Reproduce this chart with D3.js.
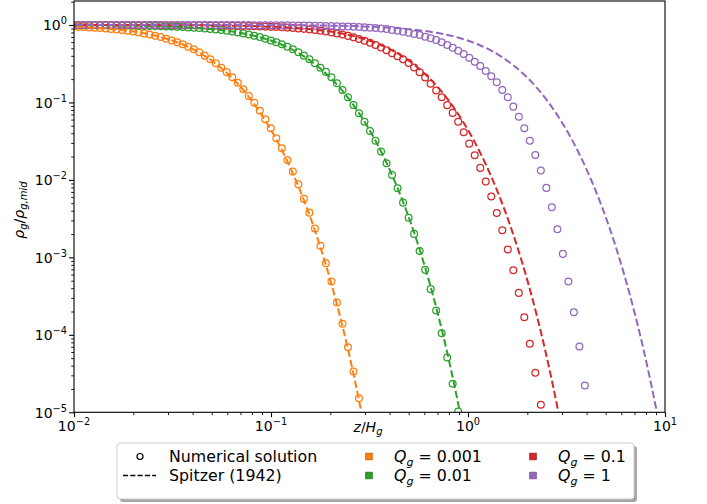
<!DOCTYPE html>
<html><head><meta charset="utf-8">
<script src="https://cdn.jsdelivr.net/npm/d3@7"></script>
<style>
body{margin:0;background:#fff;}
svg{display:block;font-family:"DejaVu Sans",sans-serif;}
</style></head><body>
<svg id="chart" width="707" height="504"></svg>
<script>
// ---------------- data ----------------
const zGrid = [0.00983,0.01048,0.01118,0.01192,0.01272,0.01356,0.01446,0.01543,0.01645,0.01755,
 0.01871,0.01996,0.02128,0.02270,0.02421,0.02582,0.02754,0.02937,0.03132,0.03340,
 0.03563,0.03799,0.04052,0.04321,0.04609,0.04915,0.05242,0.05591,0.05962,0.06359,
 0.06782,0.07233,0.07714,0.08227,0.08774,0.09358,0.09980,0.1064,0.1135,0.1211,
 0.1291,0.1377,0.1469,0.1566,0.1671,0.1782,0.1900,0.2027,0.2161,0.2305,
 0.2459,0.2622,0.2797,0.2983,0.3181,0.3393,0.3618,0.3859,0.4116,0.4389,
 0.4681,0.4995,0.5328,0.5682,0.6060,0.6463,0.6893,0.7351,0.7840,0.8362,
 0.8918,0.9511,1.0144,1.0818,1.1538,1.2305,1.3124,1.3997,1.4928,1.5920,
 1.6979,1.8109,1.9313,2.0598,2.1968,2.3429,2.4987,2.6649,2.8421,3.0311,
 3.2327,3.4478,3.6771,3.9216];

const rhoQ0001 = [0.953,0.946,0.940,0.931,0.923,0.912,0.902,0.889,0.875,0.859,
 0.841,0.822,0.802,0.779,0.755,0.728,0.698,0.665,0.631,0.597,
 0.564,0.525,0.485,0.445,0.402,0.361,0.321,0.281,0.245,0.211,
 0.180,0.148,0.121,0.0993,0.0783,0.0607,0.0465,0.0345,0.0256,0.0181,
 0.0128,0.00881,0.00569,0.00378,0.00236,0.00141,8.41e-4,4.88e-4,2.61e-4,1.39e-4,
 6.93e-5,3.36e-5,1.52e-5];

const rhoQ001 = [0.995,0.995,0.994,0.993,0.992,0.991,0.990,0.988,0.987,0.985,
 0.982,0.980,0.977,0.974,0.971,0.967,0.962,0.957,0.953,0.946,
 0.940,0.931,0.923,0.912,0.902,0.889,0.875,0.859,0.841,0.822,
 0.802,0.779,0.755,0.728,0.698,0.665,0.631,0.597,0.564,0.525,
 0.485,0.445,0.402,0.361,0.321,0.281,0.248,0.211,0.177,0.145,
 0.117,0.0929,0.0726,0.0565,0.0429,0.0321,0.0232,0.0164,0.0116,0.00782,
 0.00509,0.00324,0.00201,0.00121,6.90e-4,3.89e-4,2.06e-4,1.05e-4,5.09e-5,2.33e-5,
 1.02e-5];

const rhoQ01 = [0.9995,0.9994,0.9993,0.9992,0.9991,0.9990,0.9988,0.9987,0.9985,0.9983,
 0.9981,0.9978,0.9975,0.9972,0.9968,0.9963,0.9958,0.9952,0.9946,0.9938,
 0.9930,0.9921,0.9910,0.9897,0.9883,0.9867,0.9849,0.9829,0.9806,0.9779,
 0.9749,0.9715,0.968,0.963,0.958,0.953,0.946,0.940,0.933,0.925,
 0.914,0.904,0.891,0.877,0.861,0.843,0.824,0.802,0.778,0.752,
 0.723,0.692,0.659,0.625,0.590,0.552,0.513,0.473,0.431,0.395,
 0.360,0.324,0.282,0.246,0.210,0.174,0.143,0.117,0.0923,0.0733,
 0.0565,0.0412,0.0294,0.0208,0.0143,0.00951,0.00610,0.00375,0.00224,0.00126,
 6.84e-4,3.48e-4,1.69e-4,7.66e-5,3.24e-5,1.25e-5];

const rhoQ1 = [1.000,1.000,1.000,1.000,1.000,1.000,0.9999,0.9999,0.9998,0.9998,
 0.9997,0.9997,0.9996,0.9996,0.9995,0.9995,0.9994,0.9993,0.9992,0.9991,
 0.9990,0.9988,0.9987,0.9985,0.9983,0.9981,0.9978,0.9975,0.9971,0.9968,
 0.9963,0.9958,0.9952,0.9946,0.9938,0.9930,0.9920,0.9909,0.9897,0.9883,
 0.9867,0.9849,0.9828,0.9805,0.9778,0.9748,0.9714,0.9675,0.9631,0.9582,
 0.9526,0.9463,0.9391,0.9311,0.9219,0.9117,0.9001,0.888,0.862,0.844,
 0.819,0.796,0.766,0.743,0.706,0.673,0.640,0.598,0.552,0.509,
 0.466,0.423,0.378,0.336,0.296,0.255,0.218,0.182,0.145,0.117,
 0.0883,0.0653,0.0465,0.0321,0.0210,0.0132,0.00789,0.00445,0.00231,0.00111,
 4.88e-4,1.96e-4,7.06e-5,2.22e-5];

// Spitzer (1942) dashed profiles
const spitzerRho = [1.000,0.9975,0.9901,0.9610,0.9151,0.8556,0.7864,0.7116,0.6347,0.5591,
 0.4869,0.4200,0.3050,0.2161,0.1505,0.1036,0.07065,0.03238,0.01468,0.006624,
 0.002982,0.001341,4.935e-4,1.816e-4,6.68e-5,2.458e-5,9.04e-6,3.326e-6];
const spitzerZQ0001 = [0.000223,0.00223,0.00446,0.00892,0.01338,0.01784,0.0223,0.02676,0.03122,0.03568,
 0.04014,0.0446,0.05352,0.06244,0.07136,0.08028,0.0892,0.10704,0.12488,0.14272,
 0.16056,0.1784,0.2007,0.223,0.2453,0.2676,0.2899,0.3122];
const spitzerZQ001 = [0.000705,0.00705,0.0141,0.0282,0.0423,0.0564,0.0705,0.0846,0.0987,0.1128,
 0.1269,0.141,0.1692,0.1974,0.2256,0.2538,0.282,0.3384,0.3948,0.4512,
 0.5076,0.564,0.6345,0.705,0.7755,0.846,0.9165,0.987];
const spitzerZQ01 = [0.00223,0.0223,0.0446,0.0892,0.1338,0.1784,0.223,0.2676,0.3122,0.3568,
 0.4014,0.446,0.5352,0.6244,0.7136,0.8028,0.892,1.0704,1.2488,1.4272,
 1.6056,1.784,2.007,2.23,2.453,2.676,2.899,3.122];
const spitzerZQ1 = [0.00705,0.0705,0.141,0.282,0.423,0.564,0.705,0.846,0.987,1.128,
 1.269,1.41,1.692,1.974,2.256,2.538,2.82,3.384,3.948,4.512,
 5.076,5.64,6.345,7.05,7.755,8.46,9.165,9.87];

const seriesNames = ["0.001","0.01","0.1","1"];
const seriesColors = ["#ff7f0e","#2ca02c","#d62728","#9467bd"];
const numericalRho = [rhoQ0001, rhoQ001, rhoQ01, rhoQ1];
const spitzerZ = [spitzerZQ0001, spitzerZQ001, spitzerZQ01, spitzerZQ1];

const xTickValues = [0.01, 0.1, 1, 10];
const xTickExps = ["\u22122","\u22121","0","1"];
const yTickValues = [1e-5,1e-4,1e-3,1e-2,1e-1,1];
const yTickExps = ["\u22125","\u22124","\u22123","\u22122","\u22121","0"];

// ---------------- layout ----------------
const L = 74, R = 665, T = 1, B = 412.3;
const svg = d3.select("#chart");
const x = d3.scaleLog().domain([0.01, 10]).range([L, R]);
const y = d3.scaleLog().domain([1e-5, 2.04]).range([B, T]);

svg.append("defs").append("clipPath").attr("id","clip")
  .append("rect").attr("x",L).attr("y",T).attr("width",R-L).attr("height",B-T);

const plot = svg.append("g").attr("clip-path","url(#clip)");

const line = d3.line().x(d=>x(d[0])).y(d=>y(d[1])).curve(d3.curveMonotoneX);
seriesNames.forEach((nm,i)=>{
  const pts = numericalRho[i].map((r,k)=>[zGrid[k], r]);
  plot.append("g").selectAll("circle").data(pts).enter().append("circle")
    .attr("cx",d=>x(d[0])).attr("cy",d=>y(d[1])).attr("r",3.4)
    .attr("fill","none").attr("stroke",seriesColors[i]).attr("stroke-width",1.25);
});
seriesNames.forEach((nm,i)=>{
  const pts = spitzerZ[i].map((z,k)=>[z, spitzerRho[k]]);
  plot.append("path").datum(pts).attr("d",line)
    .attr("fill","none").attr("stroke",seriesColors[i]).attr("stroke-width",2)
    .attr("stroke-dasharray","7.4,3.2");
});

// ---------------- axes ----------------
function minorTicks(domainLo, domainHi){
  const out=[];
  for(let e=Math.round(Math.log10(domainLo)); e<Math.log10(domainHi); e++){
    for(let m=2;m<=9;m++){ const v=m*Math.pow(10,e); if(v>domainLo && v<domainHi) out.push(v); }
  }
  return out;
}
const axisStyle = g => { g.selectAll("line").attr("stroke","#000").attr("stroke-width",1.1); g.select(".domain").remove(); };

svg.append("g").attr("transform",`translate(0,${B})`)
  .call(d3.axisBottom(x).tickValues(xTickValues).tickSize(4.9).tickFormat(()=>"")).call(axisStyle);
svg.append("g").attr("transform",`translate(0,${B})`)
  .call(d3.axisBottom(x).tickValues(minorTicks(0.01,10)).tickSize(2.8).tickFormat(()=>"")).call(axisStyle)
  .selectAll("line").attr("stroke-width",0.9);
svg.append("g").attr("transform",`translate(${L},0)`)
  .call(d3.axisLeft(y).tickValues(yTickValues).tickSize(4.9).tickFormat(()=>"")).call(axisStyle);
svg.append("g").attr("transform",`translate(${L},0)`)
  .call(d3.axisLeft(y).tickValues(minorTicks(1e-5,2.04)).tickSize(2.8).tickFormat(()=>"")).call(axisStyle)
  .selectAll("line").attr("stroke-width",0.9);

// frame
svg.append("rect").attr("x",L).attr("y",T).attr("width",R-L).attr("height",B-T)
  .attr("fill","none").attr("stroke","#000").attr("stroke-width",1.1);

// tick labels
xTickValues.forEach((v,i)=>{
  const t = svg.append("text").attr("x",x(v)).attr("y",431).attr("text-anchor","middle")
    .attr("font-size",14).attr("fill","#000");
  t.append("tspan").text("10");
  t.append("tspan").attr("dy",-6).attr("font-size",9.8).text(xTickExps[i]);
});
yTickValues.forEach((v,i)=>{
  const t = svg.append("text").attr("x",67).attr("y",y(v)+5.5).attr("text-anchor","end")
    .attr("font-size",14).attr("fill","#000");
  t.append("tspan").text("10");
  t.append("tspan").attr("dy",-6).attr("font-size",9.8).text(yTickExps[i]);
});

// axis labels
const xl = svg.append("text").attr("x",368).attr("y",432).attr("text-anchor","middle").attr("font-size",14);
xl.append("tspan").attr("font-style","italic").text("z");
xl.append("tspan").text("/");
xl.append("tspan").attr("font-style","italic").text("H");
xl.append("tspan").attr("font-style","italic").attr("font-size",10).attr("dy",3).text("g");

const yl = svg.append("text").attr("transform","translate(24,210) rotate(-90)")
  .attr("text-anchor","middle").attr("font-size",14);
yl.append("tspan").attr("font-style","italic").text("\u03C1");
yl.append("tspan").attr("font-style","italic").attr("font-size",10).attr("dy",3).text("g");
yl.append("tspan").attr("dy",-3).text("/");
yl.append("tspan").attr("font-style","italic").text("\u03C1");
yl.append("tspan").attr("font-style","italic").attr("font-size",10).attr("dy",3).text("g,mid");

// ---------------- legend ----------------
const LF = 15.8;
const lg = svg.append("g");
lg.append("rect").attr("x",120).attr("y",446).attr("width",517).attr("height",56).attr("rx",3)
  .attr("fill","#000").attr("opacity",0.35);
lg.append("rect").attr("x",117).attr("y",443).attr("width",517).attr("height",56).attr("rx",3)
  .attr("fill","#fff").attr("stroke","#cccccc").attr("stroke-width",1);
lg.append("circle").attr("cx",140).attr("cy",456.5).attr("r",3).attr("fill","none")
  .attr("stroke","#000").attr("stroke-width",1.2);
lg.append("line").attr("x1",123).attr("x2",156).attr("y1",475.5).attr("y2",475.5)
  .attr("stroke","#000").attr("stroke-width",1.4).attr("stroke-dasharray","5.1,2.2");
lg.append("text").attr("x",169).attr("y",462).attr("font-size",LF).text("Numerical solution");
lg.append("text").attr("x",169).attr("y",481).attr("font-size",LF).text("Spitzer (1942)");

const legPos = [[369,456.5],[369,475.5],[533,456.5],[533,475.5]];
seriesNames.forEach((nm,i)=>{
  const [cx,cy] = legPos[i];
  lg.append("rect").attr("x",cx-3.3).attr("y",cy-3.3).attr("width",6.6).attr("height",6.6)
    .attr("fill",seriesColors[i]).attr("stroke",d3.color(seriesColors[i]).darker(0.8)).attr("stroke-width",0.8);
  const t = lg.append("text").attr("x",cx+25).attr("y",cy+5.5).attr("font-size",LF);
  t.append("tspan").attr("font-style","italic").text("Q");
  t.append("tspan").attr("font-style","italic").attr("font-size",11).attr("dy",3.5).text("g");
  t.append("tspan").attr("dy",-3.5).text(" = " + nm);
});
</script>
</body></html>
